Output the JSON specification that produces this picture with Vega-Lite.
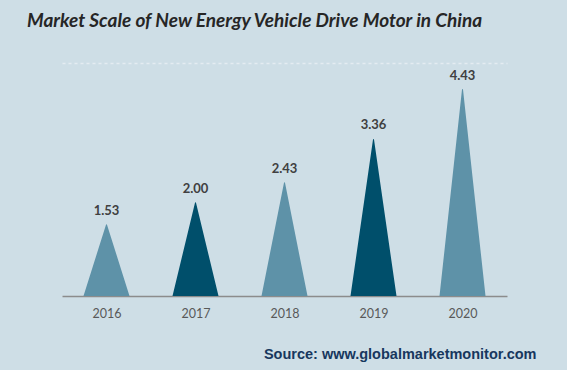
{
  "$schema": "https://vega.github.io/schema/vega-lite/v6.json",
  "autosize": {"type": "none"},
  "width": 445,
  "height": 233,
  "padding": {"left": 62, "top": 63, "right": 60, "bottom": 74},
  "background": "#cedee6",
  "config": {"view": {"stroke": null}},
  "title": {
    "text": "Market Scale of New Energy Vehicle Drive Motor in China",
    "anchor": "start",
    "font": "Lato",
    "fontSize": 19,
    "fontWeight": "bold",
    "fontStyle": "italic",
    "color": "#262626",
    "baseline": "alphabetic",
    "offset": 17,
    "dx": -35
  },
  "data": {
    "values": [
      {"year": "2016", "value": 1.53},
      {"year": "2017", "value": 2.00},
      {"year": "2018", "value": 2.43},
      {"year": "2019", "value": 3.36},
      {"year": "2020", "value": 4.43}
    ]
  },
  "encoding": {
    "x": {
      "field": "year",
      "type": "ordinal",
      "scale": {"type": "point", "padding": 0.5},
      "axis": {
        "labelAngle": 0,
        "labelFont": "Lato",
        "labelFontSize": 12.5,
        "labelColor": "#595959",
        "labelPadding": 11,
        "ticks": false,
        "domainColor": "#8c8c8c",
        "domainWidth": 1.5,
        "title": "Source: www.globalmarketmonitor.com",
        "titleFont": "Liberation Sans",
        "titleFontSize": 14.5,
        "titleFontWeight": "bold",
        "titleColor": "#17375e",
        "titleAnchor": "end",
        "titleAlign": "right",
        "titleBaseline": "alphabetic",
        "titleX": 474,
        "titleY": 62
      }
    },
    "y": {
      "field": "value",
      "type": "quantitative",
      "scale": {"domain": [0, 5], "nice": false},
      "axis": {
        "values": [5],
        "grid": true,
        "gridDash": [3, 3],
        "gridColor": "#e4ecf1",
        "gridWidth": 1.5,
        "domain": false,
        "ticks": false,
        "labels": false,
        "title": null
      }
    }
  },
  "layer": [
    {
      "transform": [
        {"impute": "value", "key": "part", "keyvals": ["base"], "groupby": ["year"], "value": 0}
      ],
      "mark": {"type": "trail", "clip": true},
      "encoding": {
        "color": {
          "field": "year",
          "type": "nominal",
          "scale": {
            "domain": ["2016", "2017", "2018", "2019", "2020"],
            "range": ["#5e92a8", "#004f6b", "#5e92a8", "#004f6b", "#5e92a8"]
          },
          "legend": null
        },
        "size": {
          "condition": {"test": "datum.part === 'base'", "value": 46},
          "value": 0
        }
      }
    },
    {
      "mark": {
        "type": "text",
        "baseline": "bottom",
        "dy": -7,
        "font": "Lato",
        "fontSize": 13,
        "fontWeight": "bold",
        "color": "#404040"
      },
      "encoding": {
        "text": {"field": "value", "type": "quantitative", "format": ".2f"}
      }
    }
  ]
}
